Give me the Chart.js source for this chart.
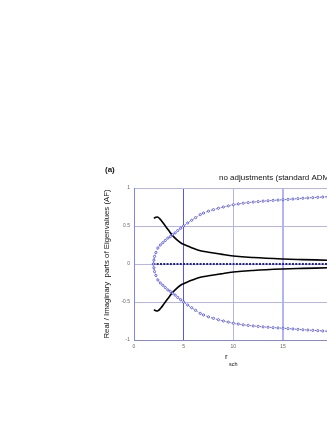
<!DOCTYPE html>
<html><head><meta charset="utf-8">
<style>html,body{margin:0;padding:0;overflow:hidden;background:#fff;width:327px;height:423px}
#c{position:absolute;left:0;top:0}</style>
<script src="https://cdn.jsdelivr.net/npm/chart.js@4.4.1/dist/chart.umd.min.js"></script>
</head><body>
<canvas id="c" width="460" height="423"></canvas>
<script>
// Imaginary parts (blue dotted) – upper branch, lower is mirrored
const imagX = [1.95,2.0,2.07,2.2,2.4,2.65,2.9,3.15,3.4,3.65,3.9,4.15,4.4,4.7,5.0,5.4,5.8,6.2,6.67,7.0,7.5,8.0,8.5,9.0,9.5,10,10.5,11,11.5,12,12.5,13,13.5,14,14.5,15,15.5,16,16.5,17,17.5,18,18.5,19,19.5,20];
const imagY = [0,0.05,0.1,0.15,0.21,0.25,0.28,0.31,0.34,0.36,0.385,0.41,0.44,0.47,0.5,0.54,0.575,0.61,0.65,0.67,0.695,0.715,0.733,0.75,0.765,0.78,0.79,0.80,0.808,0.815,0.821,0.827,0.832,0.837,0.841,0.845,0.85,0.855,0.86,0.865,0.869,0.873,0.877,0.881,0.885,0.888];
// Real parts (black solid) – upper branch, lower is mirrored
const realX = [2.0,2.2,2.4,2.7,3.1,3.5,3.85,4.3,4.8,5.0,5.8,6.67,7.5,8.7,10,12,15,17,19.5,21];
const realY = [0.60,0.615,0.617,0.58,0.51,0.44,0.38,0.32,0.27,0.26,0.215,0.175,0.155,0.13,0.105,0.085,0.066,0.058,0.05,0.047];
// Zero (real) line
const zeroX = imagX;
const xTicks = [0,5,10,15,20,25,30];
const yTicks = [-1,-0.5,0,0.5,1];

const pts = (xs, ys, s) => xs.map((x,i)=>({x:x, y:s*ys[i]}));
const blueStyle = {showLine:true, borderColor:'#3434d4', borderWidth:0.8, borderDash:[1,1.5],
  pointRadius:1.1, pointBorderWidth:0.7, pointBorderColor:'#3434d4', pointBackgroundColor:'#ffffff', tension:0.3};
const blackStyle = {showLine:true, borderColor:'#000000', borderWidth:1.6, pointRadius:0, tension:0.4};

const textPlugin = {
  id:'texts',
  afterDraw(chart){
    const ctx = chart.ctx;
    ctx.save();
    ctx.fillStyle = '#111';
    ctx.textBaseline = 'middle';
    ctx.font = 'bold 8px "Liberation Sans", Arial, sans-serif';
    ctx.textAlign = 'left';
    ctx.fillText('(a)', 105, 170);
    ctx.font = '8px "Liberation Sans", Arial, sans-serif';
    ctx.fillText('no adjustments (standard ADM)', 219, 178);
    ctx.font = '8px "Liberation Sans", Arial, sans-serif';
    ctx.fillText('r', 225, 357);
    ctx.font = '5.5px "Liberation Sans", Arial, sans-serif';
    ctx.fillText('sch', 229, 364);
    ctx.translate(107, 264);
    ctx.rotate(-Math.PI/2);
    ctx.textAlign = 'center';
    ctx.font = '7.8px "Liberation Sans", Arial, sans-serif';
    ctx.fillText('Real / Imaginary  parts of Eigenvalues (AF)', 0, 0);
    ctx.restore();
  }
};

new Chart(document.getElementById('c'), {
  type:'scatter',
  data:{datasets:[
    Object.assign({data:pts(imagX,imagY,1)}, blueStyle),
    Object.assign({data:pts(imagX,imagY,-1)}, blueStyle),
    Object.assign({data:pts(realX,realY,1)}, blackStyle),
    Object.assign({data:pts(realX,realY,-1)}, blackStyle),
    {data:zeroX.map(x=>({x:x,y:0})), showLine:true, borderColor:'#1c1cb4', borderWidth:2.2, borderDash:[2,1.3], pointRadius:0}
  ]},
  options:{
    responsive:false, animation:false,
    layout:{padding:{left:120, top:188, right:28, bottom:73}},
    plugins:{legend:{display:false}, tooltip:{enabled:false}},
    scales:{
      x:{type:'linear', min:0, max:30,
        afterBuildTicks:(s)=>{s.ticks = xTicks.map(v=>({value:v}));},
        afterFit:(s)=>{s.height=10;},
        border:{color:'#8484ee', width:1},
        grid:{drawTicks:false, color:(c)=> c.tick && c.tick.value===5 ? '#5858dc' : '#b4b4f2',
              lineWidth:(c)=> c.tick && c.tick.value===15 ? 2 : 1},
        ticks:{padding:4, color:'#666', font:{size:5, family:'"Liberation Sans", Arial, sans-serif'}, maxRotation:0,
               callback:(v)=>String(v)}
      },
      y:{type:'linear', min:-1, max:1,
        afterBuildTicks:(s)=>{s.ticks = yTicks.map(v=>({value:v}));},
        afterFit:(s)=>{s.width=14;},
        border:{color:'#8484ee', width:1},
        grid:{drawTicks:false, color:'#b4b4f2', lineWidth:1},
        ticks:{padding:4, color:'#666', font:{size:5, family:'"Liberation Sans", Arial, sans-serif'},
               callback:(v)=>String(v)}
      }
    }
  },
  plugins:[textPlugin]
});
</script>
</body></html>
